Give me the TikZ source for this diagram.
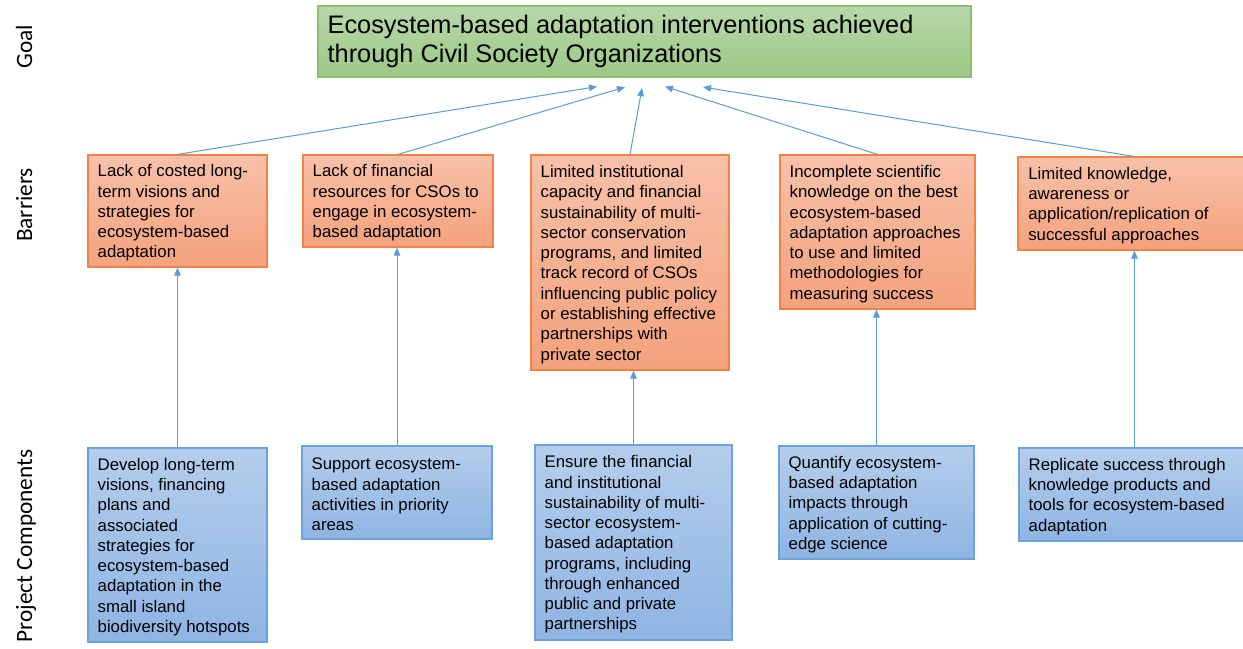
\documentclass[tikz,border=0pt]{standalone}
\usepackage{fontspec}
\setmainfont{Liberation Sans}
\newfontfamily\labelfont{Carlito}
\usetikzlibrary{arrows.meta,calc}
\definecolor{goaltop}{HTML}{B8D8A9}
\definecolor{goalbot}{HTML}{9CC886}
\definecolor{goalborder}{HTML}{8CBF6F}
\definecolor{bartop}{HTML}{F8C1A9}
\definecolor{barbot}{HTML}{F4A27D}
\definecolor{barborder}{HTML}{EF8444}
\definecolor{comptop}{HTML}{B4CEEC}
\definecolor{compbot}{HTML}{8FB4E3}
\definecolor{compborder}{HTML}{6CA2DA}
\definecolor{arrowblue}{HTML}{5B9BD5}
\begin{document}
\begin{tikzpicture}[x=0.75pt,y=-0.75pt,
  box/.style={line width=0.9pt, inner sep=0pt},
  goalbox/.style={box, draw=goalborder, top color=goaltop, bottom color=goalbot},
  barbox/.style={box, draw=barborder, top color=bartop, bottom color=barbot},
  compbox/.style={box, draw=compborder, top color=comptop, bottom color=compbot},
  txt/.style={align=left, inner sep=0pt, anchor=west, yshift=-1.5pt, text=black, font=\fontsize{12.6}{15.2}\selectfont},
  goaltxt/.style={align=left, inner sep=0pt, anchor=west, text=black, font=\fontsize{19}{21.75}\selectfont},
  sidelabel/.style={rotate=90, anchor=base, inner sep=0pt, font=\labelfont\fontsize{17.5}{21}\selectfont},
  arr/.style={draw=arrowblue, line width=0.75pt, -{Triangle[length=6pt,width=5pt]}}
]
\useasboundingbox (0,0) rectangle (1243,649);

% side labels
\node[sidelabel] (Lg) at (32,46.5) {Goal};
\node[sidelabel] (Lb) at (32,205) {Barriers};
\node[sidelabel] (Lp) at (32,546) {Project Components};

% goal
\node[goalbox, minimum width=489.75pt, minimum height=53.25pt] (G) at (644.5,41.5) {};
\node[goaltxt] (Gt) at ([xshift=7.5pt]G.west) {Ecosystem-based adaptation interventions achieved\\through Civil Society Organizations};

% barriers
\node[barbox, minimum width=134.25pt, minimum height=84pt] (B1) at (177.5,211) {};
\node[txt] (B1t) at ([xshift=7.5pt]B1.west) {Lack of costed long-\\term visions and\\strategies for\\ecosystem-based\\adaptation};

\node[barbox, minimum width=142.5pt, minimum height=69pt] (B2) at (398,201) {};
\node[txt] (B2t) at ([xshift=7.5pt]B2.west) {Lack of financial\\resources for CSOs to\\engage in ecosystem-\\based adaptation};

\node[barbox, minimum width=148.5pt, minimum height=161.25pt] (B3) at (630,262.5) {};
\node[txt] (B3t) at ([xshift=7.5pt]B3.west) {Limited institutional\\capacity and financial\\sustainability of multi-\\sector conservation\\programs, and limited\\track record of CSOs\\influencing public policy\\or establishing effective\\partnerships with\\private sector};

\node[barbox, minimum width=146.25pt, minimum height=115.5pt] (B4) at (877.5,232) {};
\node[txt] (B4t) at ([xshift=7.5pt]B4.west) {Incomplete scientific\\knowledge on the best\\ecosystem-based\\adaptation approaches\\to use and limited\\methodologies for\\measuring success};

\node[barbox, minimum width=174pt, minimum height=69.75pt] (B5) at (1134,203.5) {};
\node[txt] (B5t) at ([xshift=8pt]B5.west) {Limited knowledge,\\awareness or\\application/replication of\\successful approaches};

% components
\node[compbox, minimum width=134.25pt, minimum height=145.5pt] (C1) at (177.5,545) {};
\node[txt] (C1t) at ([xshift=7.5pt]C1.west) {Develop long-term\\visions, financing\\plans and\\associated\\strategies for\\ecosystem-based\\adaptation in the\\small island\\biodiversity hotspots};

\node[compbox, minimum width=142.5pt, minimum height=69.75pt] (C2) at (397,492.5) {};
\node[txt] (C2t) at ([xshift=7.5pt]C2.west) {Support ecosystem-\\based adaptation\\activities in priority\\areas};

\node[compbox, minimum width=147.75pt, minimum height=146.25pt] (C3) at (633.5,542.5) {};
\node[txt] (C3t) at ([xshift=7.5pt]C3.west) {Ensure the financial\\and institutional\\sustainability of multi-\\sector ecosystem-\\based adaptation\\programs, including\\through enhanced\\public and private\\partnerships};

\node[compbox, minimum width=146.25pt, minimum height=84.75pt] (C4) at (876.5,502.5) {};
\node[txt] (C4t) at ([xshift=7.5pt]C4.west) {Quantify ecosystem-\\based adaptation\\impacts through\\application of cutting-\\edge science};

\node[compbox, minimum width=173.25pt, minimum height=69.75pt] (C5) at (1134.5,494.5) {};
\node[txt] (C5t) at ([xshift=7.5pt]C5.west) {Replicate success through\\knowledge products and\\tools for ecosystem-based\\adaptation};

% component -> barrier
\draw[arr] (C1.north) -- (C1.north |- B1.south);
\draw[arr] (C2.north) -- (C2.north |- B2.south);
\draw[arr] (C3.north) -- (C3.north |- B3.south);
\draw[arr] (C4.north) -- (C4.north |- B4.south);
\draw[arr] (C5.north) -- (C5.north |- B5.south);

% barrier -> goal
\coordinate (g1) at ($(G.south)+(-47.5,9)$);
\coordinate (g2) at ($(G.south)+(-19.5,9.5)$);
\coordinate (g3) at ($(G.south)+(-2.5,10.5)$);
\coordinate (g4) at ($(G.south)+(20.5,9)$);
\coordinate (g5) at ($(G.south)+(58.5,9.5)$);
\draw[arr] (B1.north) -- (g1);
\draw[arr] (B2.north) -- (g2);
\draw[arr] (B3.north) -- (g3);
\draw[arr] (B4.north) -- (g4);
\draw[arr] (B5.north) -- (g5);
\end{tikzpicture}
\end{document}
